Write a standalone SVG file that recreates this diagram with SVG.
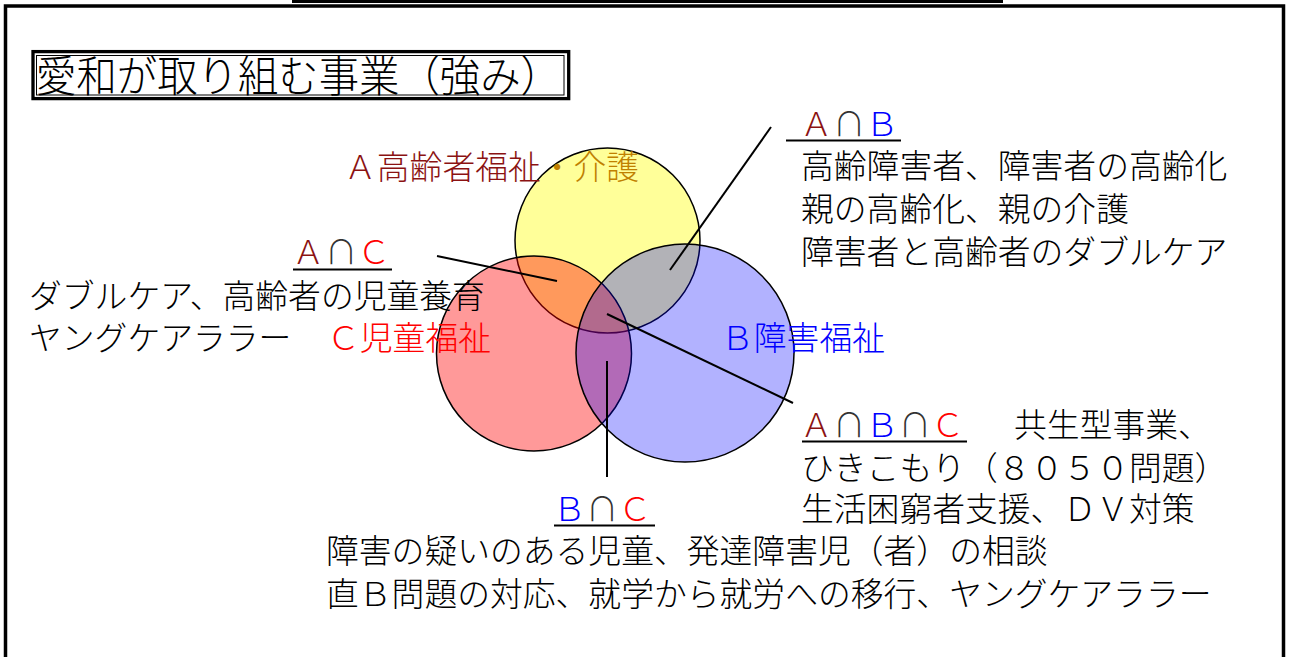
<svg xmlns="http://www.w3.org/2000/svg" width="1289" height="657" viewBox="0 0 1289 657">
<style>
  text { font-family: "Noto Sans CJK JP", "Noto Sans", sans-serif; font-size: 32.8px; font-weight: 300; fill: #000; }
  .title { font-size: 39px; }
  .ca { fill: #8B1212; }
  .cb { fill: #0000FF; }
  .cc { fill: #FF0000; }
  .cn { fill: #333333; }
  .co { fill: #C08000; }
  .circ { stroke: #000; stroke-width: 1.5; }
  .conn line { stroke: #000; stroke-width: 2; }
  .ul { stroke: #000; stroke-width: 2; }
</style>
<rect x="0" y="0" width="1289" height="657" fill="#FFFFFF"/>
<g id="frame">
  <rect x="292" y="0" width="711" height="3" fill="#000"/>
  <rect x="5.5" y="6" width="1278" height="700" fill="none" stroke="#000" stroke-width="3.5"/>
</g>
<g id="title">
  <rect x="33" y="51.6" width="535.7" height="47" fill="#fff" stroke="#000" stroke-width="3.3"/>
  <rect x="36.5" y="55.5" width="527.5" height="39.5" fill="none" stroke="#000" stroke-width="1"/>
  <text class="title" transform="translate(36,92) scale(1,1.1)" x="0" y="0" textLength="525" lengthAdjust="spacingAndGlyphs">愛和が取り組む事業（強み）</text>
</g>
<g id="circle-A">
  <circle class="circ" cx="607.5" cy="240.5" r="92.5" fill="#FFFF00" fill-opacity="0.4"/>
</g>
<g id="circle-C">
  <circle class="circ" cx="534" cy="353.5" r="97.5" fill="#FF0000" fill-opacity="0.4"/>
</g>
<g id="circle-B">
  <circle class="circ" cx="685" cy="353" r="109" fill="#0000FF" fill-opacity="0.3"/>
</g>
<g id="connectors" class="conn">
  <line x1="771" y1="127" x2="670" y2="270"/>
  <line x1="437" y1="256" x2="557" y2="281"/>
  <line x1="607" y1="314" x2="793" y2="403"/>
  <line x1="607" y1="361" x2="607" y2="477"/>
</g>
<g id="label-A">
  <text x="344" y="179"><tspan class="ca">Ａ高齢者福祉</tspan><tspan class="co">・介護</tspan></text>
</g>
<g id="label-B">
  <text class="cb" x="721" y="350">Ｂ障害福祉</text>
</g>
<g id="label-C">
  <text class="cc" x="327" y="350">Ｃ児童福祉</text>
</g>
<g id="label-AB">
  <text x="800" y="136"><tspan class="ca">Ａ</tspan><tspan class="cn">∩</tspan><tspan class="cb">Ｂ</tspan></text>
  <line class="ul" x1="786" y1="140.5" x2="901" y2="140.5"/>
  <text x="801" y="178">高齢障害者、障害者の高齢化</text>
  <text x="801" y="221">親の高齢化、親の介護</text>
  <text x="801" y="264">障害者と高齢者のダブルケア</text>
</g>
<g id="label-AC">
  <text x="292" y="264"><tspan class="ca">Ａ</tspan><tspan class="cn">∩</tspan><tspan class="cc">Ｃ</tspan></text>
  <line class="ul" x1="293" y1="269.5" x2="392" y2="269.5"/>
  <text x="29" y="308">ダブルケア、高齢者の児童養育</text>
  <text x="29" y="350">ヤングケアララー</text>
</g>
<g id="label-ABC">
  <text x="800" y="437"><tspan class="ca">Ａ</tspan><tspan class="cn">∩</tspan><tspan class="cb">Ｂ</tspan><tspan class="cn">∩</tspan><tspan class="cc">Ｃ</tspan></text>
  <line class="ul" x1="802" y1="441.5" x2="967" y2="441.5"/>
  <text x="1014" y="437">共生型事業、</text>
  <text x="801" y="480">ひきこもり（８０５０問題）</text>
  <text x="801" y="521">生活困窮者支援、ＤＶ対策</text>
</g>
<g id="label-BC">
  <text x="553" y="521"><tspan class="cb">Ｂ</tspan><tspan class="cn">∩</tspan><tspan class="cc">Ｃ</tspan></text>
  <line class="ul" x1="554" y1="525.5" x2="655" y2="525.5"/>
  <text x="326" y="563">障害の疑いのある児童、発達障害児（者）の相談</text>
  <text x="326" y="606">直Ｂ問題の対応、就学から就労への移行、ヤングケアララー</text>
</g>
</svg>
